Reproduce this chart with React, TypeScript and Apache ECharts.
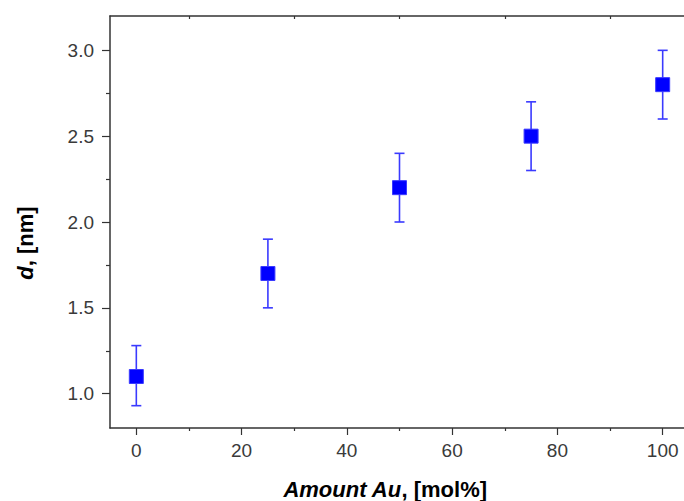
import React, { useEffect, useRef } from "react";
import * as echarts from "echarts";

const xValues = [0, 25, 50, 75, 100];
const yValues = [1.1, 1.7, 2.2, 2.5, 2.8];
const errLow = [0.93, 1.5, 2.0, 2.3, 2.6];
const errHigh = [1.28, 1.9, 2.4, 2.7, 3.0];

const xMajor = [0, 20, 40, 60, 80, 100];
const xMinor = [10, 30, 50, 70, 90];
const yMajor = [1.0, 1.5, 2.0, 2.5, 3.0];
const yMinor = [1.25, 1.75, 2.25, 2.75];

const FONT = "'Liberation Sans', Arial, sans-serif";
const AXIS_COLOR = "#333";

export default function App() {
  const ref = useRef<HTMLDivElement>(null);
  useEffect(() => {
    if (!ref.current) return;
    const chart = echarts.init(ref.current, null, { renderer: "svg" });
    const xBase = { type: "value", min: -5, max: 105, gridIndex: 0, splitLine: { show: false } };
    const yBase = { type: "value", min: 0.8, max: 3.2, gridIndex: 0, splitLine: { show: false } };
    chart.setOption({
      animation: false,
      backgroundColor: "#fff",
      grid: { left: 110, top: 16, right: -5, bottom: 73, outerBoundsMode: "none", containLabel: false },
      xAxis: [
        {
          ...xBase,
          position: "bottom",
          axisLine: { show: true, onZero: false, lineStyle: { color: AXIS_COLOR, width: 1.5 } },
          axisTick: { show: true, inside: false, length: 7, customValues: xMajor, lineStyle: { color: AXIS_COLOR, width: 1.2 } },
          axisLabel: { show: true, customValues: xMajor, margin: 13, fontSize: 19, color: "#3a3a3a", fontFamily: FONT },
        },
        {
          ...xBase,
          position: "bottom",
          offset: 0,
          axisLine: { show: false, onZero: false },
          axisTick: { show: true, inside: false, length: 3, customValues: xMinor, lineStyle: { color: AXIS_COLOR, width: 1.2 } },
          axisLabel: { show: false },
        },
        {
          ...xBase,
          position: "top",
          axisLine: { show: true, onZero: false, lineStyle: { color: AXIS_COLOR, width: 1.5 } },
          axisTick: { show: true, inside: true, length: 3, customValues: xMinor, lineStyle: { color: AXIS_COLOR, width: 1.2 } },
          axisLabel: { show: false },
        },
      ],
      yAxis: [
        {
          ...yBase,
          position: "left",
          axisLine: { show: true, onZero: false, lineStyle: { color: AXIS_COLOR, width: 1.5 } },
          axisTick: { show: true, inside: false, length: 8, customValues: yMajor, lineStyle: { color: AXIS_COLOR, width: 1.2 } },
          axisLabel: {
            show: true,
            customValues: yMajor,
            margin: 16,
            fontSize: 19,
            color: "#3a3a3a",
            fontFamily: FONT,
            formatter: (v: number) => v.toFixed(1),
          },
        },
        {
          ...yBase,
          position: "left",
          offset: 0,
          axisLine: { show: false, onZero: false },
          axisTick: { show: true, inside: false, length: 4, customValues: yMinor, lineStyle: { color: AXIS_COLOR, width: 1.2 } },
          axisLabel: { show: false },
        },
        {
          ...yBase,
          position: "right",
          axisLine: { show: true, onZero: false, lineStyle: { color: AXIS_COLOR, width: 1.5 } },
          axisTick: { show: false },
          axisLabel: { show: false },
        },
      ],
      graphic: [
        {
          type: "text",
          x: 385,
          y: 489,
          style: {
            text: "{bi|Amount Au}{b|, [mol%]}",
            align: "center",
            verticalAlign: "middle",
            rich: {
              bi: { fontSize: 22, fontWeight: "bold", fontStyle: "italic", fontFamily: FONT, fill: "#000" },
              b: { fontSize: 22, fontWeight: "bold", fontFamily: FONT, fill: "#000" },
            },
          },
        },
        {
          type: "text",
          x: 25,
          y: 243,
          rotation: Math.PI / 2,
          style: {
            text: "{bi|d}{b|, [nm]}",
            align: "center",
            verticalAlign: "middle",
            rich: {
              bi: { fontSize: 22, fontWeight: "bold", fontStyle: "italic", fontFamily: FONT, fill: "#000" },
              b: { fontSize: 22, fontWeight: "bold", fontFamily: FONT, fill: "#000" },
            },
          },
        },
      ],
      series: [
        {
          type: "custom",
          xAxisIndex: 0,
          yAxisIndex: 0,
          z: 2,
          data: xValues.map((x, i) => [x, errLow[i], errHigh[i]]),
          encode: { x: 0, y: [1, 2] },
          renderItem: (params: any, api: any) => {
            const x = api.value(0);
            const lo = api.coord([x, api.value(1)]);
            const hi = api.coord([x, api.value(2)]);
            const w = 5;
            const style = { stroke: "#3a3aff", lineWidth: 1.6 };
            return {
              type: "group",
              children: [
                { type: "line", shape: { x1: lo[0], y1: lo[1], x2: hi[0], y2: hi[1] }, style },
                { type: "line", shape: { x1: lo[0] - w, y1: lo[1], x2: lo[0] + w, y2: lo[1] }, style },
                { type: "line", shape: { x1: hi[0] - w, y1: hi[1], x2: hi[0] + w, y2: hi[1] }, style },
              ],
            };
          },
        },
        {
          type: "scatter",
          xAxisIndex: 0,
          yAxisIndex: 0,
          z: 5,
          symbol: "rect",
          symbolSize: 14,
          itemStyle: { color: "#0000ff", opacity: 1, borderColor: "#3a3aff", borderWidth: 1 },
          emphasis: { disabled: true },
          data: xValues.map((x, i) => [x, yValues[i]]),
        },
      ],
    });
    return () => chart.dispose();
  }, []);
  return (
    <div
      ref={ref}
      style={{ position: "absolute", left: 0, top: 0, width: 684, height: 501, background: "#fff" }}
    />
  );
}
